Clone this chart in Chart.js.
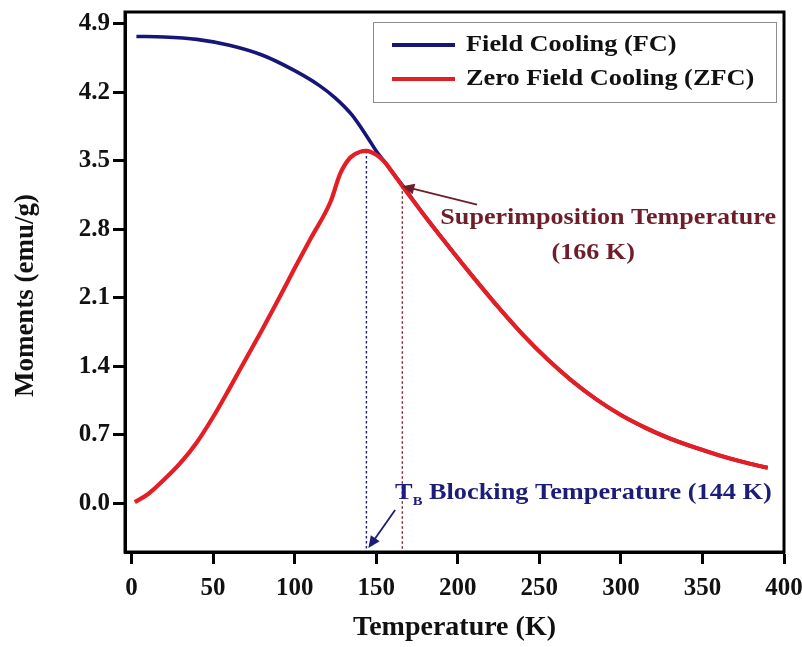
<!DOCTYPE html>
<html><head><meta charset="utf-8">
<script src="https://cdn.jsdelivr.net/npm/chart.js@4.4.1/dist/chart.umd.min.js"></script>
<style>html,body{margin:0;padding:0;background:#fff}#wrap{width:802px;height:647px}</style>
</head><body><div id="wrap"><canvas id="c" width="802" height="647"></canvas></div>
<script>
// ---- data ----
const fcTemps    = [3, 20, 40, 60, 80, 100, 115, 125, 135, 145, 150, 155, 160, 166, 180, 195, 210, 225, 240, 255, 270, 285, 300, 315, 330, 345, 360, 375, 390];
const fcMoments  = [4.77, 4.765, 4.74, 4.68, 4.58, 4.42, 4.27, 4.14, 3.97, 3.73, 3.60, 3.49, 3.38, 3.25, 2.93, 2.61, 2.30, 2.00, 1.72, 1.47, 1.25, 1.06, 0.90, 0.77, 0.66, 0.57, 0.49, 0.42, 0.36];
const zfcTemps   = [2, 10, 20, 30, 40, 50, 60, 70, 80, 90, 100, 110, 122, 128, 134, 140, 144, 150, 155, 160, 166, 180, 195, 210, 225, 240, 255, 270, 285, 300, 315, 330, 345, 360, 375, 390];
const zfcMoments = [0.01, 0.09, 0.24, 0.41, 0.62, 0.88, 1.17, 1.47, 1.77, 2.08, 2.40, 2.71, 3.08, 3.37, 3.53, 3.59, 3.60, 3.56, 3.49, 3.38, 3.24, 2.93, 2.61, 2.30, 2.00, 1.72, 1.47, 1.25, 1.06, 0.90, 0.77, 0.66, 0.57, 0.49, 0.42, 0.36];
const xTickValues = [0, 50, 100, 150, 200, 250, 300, 350, 400];
const yTickValues = [0.0, 0.7, 1.4, 2.1, 2.8, 3.5, 4.2, 4.9];
const seriesNames = ['Field Cooling (FC)', 'Zero Field Cooling (ZFC)'];
const blockingTemp = 144, blockingMoment = 3.60;
const superTemp = 166, superMoment = 3.24;

const FONT = '"Liberation Serif", "Times New Roman", serif';
const FC_COLOR = '#16167a', ZFC_COLOR = '#e31e24';
const SUP_COLOR = '#6e1e2a', BLK_COLOR = '#1c1c7a';
const STRETCH = 1.12;

function pts(xs, ys){ return xs.map((x,i)=>({x:x, y:ys[i]})); }

function drawStretched(ctx, text, x, y, size, color, align){
  ctx.save();
  ctx.font = 'bold ' + size + 'px ' + FONT;
  ctx.fillStyle = color;
  ctx.textBaseline = 'middle';
  const w = ctx.measureText(text).width * STRETCH;
  let left = x;
  if (align === 'center') left = x - w/2;
  else if (align === 'right') left = x - w;
  ctx.translate(left, y);
  ctx.scale(STRETCH, 1);
  ctx.textAlign = 'left';
  ctx.fillText(text, 0, 0);
  ctx.restore();
  return w;
}

function arrow(ctx, x1, y1, x2, y2, color, head){
  const a = Math.atan2(y2-y1, x2-x1);
  ctx.save();
  ctx.strokeStyle = color; ctx.fillStyle = color; ctx.lineWidth = 1.8;
  ctx.beginPath(); ctx.moveTo(x1,y1);
  ctx.lineTo(x2 - Math.cos(a)*head*0.8, y2 - Math.sin(a)*head*0.8); ctx.stroke();
  ctx.beginPath();
  ctx.moveTo(x2, y2);
  ctx.lineTo(x2 - head*Math.cos(a) + head*0.45*Math.sin(a), y2 - head*Math.sin(a) - head*0.45*Math.cos(a));
  ctx.lineTo(x2 - head*Math.cos(a) - head*0.45*Math.sin(a), y2 - head*Math.sin(a) + head*0.45*Math.cos(a));
  ctx.closePath(); ctx.fill();
  ctx.restore();
}

const decor = {
  id: 'decor',
  beforeDatasetsDraw(chart){
    const {ctx, scales:{x, y}} = chart;
    ctx.save();
    ctx.lineWidth = 1.4;
    ctx.setLineDash([2.5, 2.5]);
    ctx.strokeStyle = BLK_COLOR;
    ctx.beginPath();
    ctx.moveTo(x.getPixelForValue(blockingTemp), y.getPixelForValue(blockingMoment));
    ctx.lineTo(x.getPixelForValue(blockingTemp), y.bottom);
    ctx.stroke();
    ctx.strokeStyle = '#8a2a30';
    ctx.beginPath();
    ctx.moveTo(x.getPixelForValue(superTemp), y.getPixelForValue(superMoment));
    ctx.lineTo(x.getPixelForValue(superTemp), y.bottom);
    ctx.stroke();
    ctx.restore();
  },
  afterDraw(chart){
    const {ctx, chartArea:a, scales:{x, y}} = chart;
    // frame
    ctx.save();
    ctx.strokeStyle = '#000'; ctx.lineWidth = 3;
    ctx.strokeRect(a.left, a.top, a.right - a.left, a.bottom - a.top);
    ctx.restore();

    // legend
    ctx.save();
    ctx.strokeStyle = '#8c8c8c'; ctx.lineWidth = 1;
    ctx.strokeRect(373.5, 22.5, 403, 80);
    ctx.lineWidth = 4;
    ctx.strokeStyle = FC_COLOR;
    ctx.beginPath(); ctx.moveTo(392, 45); ctx.lineTo(455, 45); ctx.stroke();
    ctx.strokeStyle = ZFC_COLOR;
    ctx.beginPath(); ctx.moveTo(392, 79); ctx.lineTo(455, 79); ctx.stroke();
    ctx.restore();
    drawStretched(ctx, seriesNames[0], 466, 45, 23.5, '#111', 'left');
    drawStretched(ctx, seriesNames[1], 466, 79, 23.5, '#111', 'left');

    // superimposition annotation
    arrow(ctx, x.getPixelForValue(211.8), y.getPixelForValue(3.05),
               x.getPixelForValue(superTemp), y.getPixelForValue(superMoment), SUP_COLOR, 12);
    drawStretched(ctx, 'Superimposition Temperature', x.getPixelForValue(292.2), y.getPixelForValue(2.914), 23.3, SUP_COLOR, 'center');
    drawStretched(ctx, '(166 K)', x.getPixelForValue(283), y.getPixelForValue(2.556), 23.3, SUP_COLOR, 'center');

    // blocking annotation
    arrow(ctx, x.getPixelForValue(161.6), y.getPixelForValue(-0.07),
               x.getPixelForValue(145.2), y.getPixelForValue(-0.46), BLK_COLOR, 12);
    const bx = x.getPixelForValue(161.6), by = y.getPixelForValue(0.103);
    let w = drawStretched(ctx, 'T', bx, by, 23.5, BLK_COLOR, 'left');
    let w2 = drawStretched(ctx, 'B', bx + w, by + 9, 13, BLK_COLOR, 'left');
    drawStretched(ctx, ' Blocking Temperature (144 K)', bx + w + w2, by, 23.5, BLK_COLOR, 'left');
  }
};

const tickFont = {family: FONT, size: 25, weight: 'bold'};

new Chart(document.getElementById('c'), {
  type: 'line',
  data: {
    datasets: [
      {label: seriesNames[1], data: pts(zfcTemps, zfcMoments), borderColor: ZFC_COLOR, borderWidth: 4.2,
       pointRadius: 0, cubicInterpolationMode: 'monotone', fill: false, order: 1},
      {label: seriesNames[0], data: pts(fcTemps, fcMoments), borderColor: FC_COLOR, borderWidth: 3.6,
       pointRadius: 0, cubicInterpolationMode: 'monotone', fill: false, order: 2}
    ]
  },
  options: {
    responsive: false,
    animation: false,
    devicePixelRatio: 1,
    layout: {padding: {top: 12, right: 18, left: 0, bottom: 0}},
    plugins: {legend: {display: false}, tooltip: {enabled: false}},
    scales: {
      x: {
        type: 'linear', min: -4, max: 400,
        afterBuildTicks: s => { s.ticks = xTickValues.map(v => ({value: v})); },
        afterFit: s => { s.height = 95; s.paddingLeft = 0; s.paddingRight = 0; },
        ticks: {font: tickFont, color: '#111', padding: 10, maxRotation: 0, autoSkip: false,
                callback: v => String(v)},
        grid: {drawOnChartArea: false, drawTicks: true, tickLength: 12, tickWidth: 3, color: '#000'},
        border: {display: true, width: 3, color: '#000'},
        title: {display: true, text: 'Temperature (K)', color: '#111',
                font: {family: FONT, size: 28, weight: 'bold'}, padding: {top: 0, bottom: 2}}
      },
      y: {
        type: 'linear', min: -0.5, max: 5.02,
        afterBuildTicks: s => { s.ticks = yTickValues.map(v => ({value: v})); },
        afterFit: s => { s.width = 125; s.paddingTop = 0; s.paddingBottom = 0; },
        ticks: {font: tickFont, color: '#111', padding: 3, autoSkip: false,
                callback: v => Number(v).toFixed(1)},
        grid: {drawOnChartArea: false, drawTicks: true, tickLength: 12, tickWidth: 3, color: '#000'},
        border: {display: true, width: 3, color: '#000'},
        title: {display: true, text: 'Moments (emu/g)\u2002\u2002', color: '#111',
                font: {family: FONT, size: 27, weight: 'bold'}, padding: {top: 10, bottom: 0}}
      }
    }
  },
  plugins: [decor]
});
</script></body></html>
